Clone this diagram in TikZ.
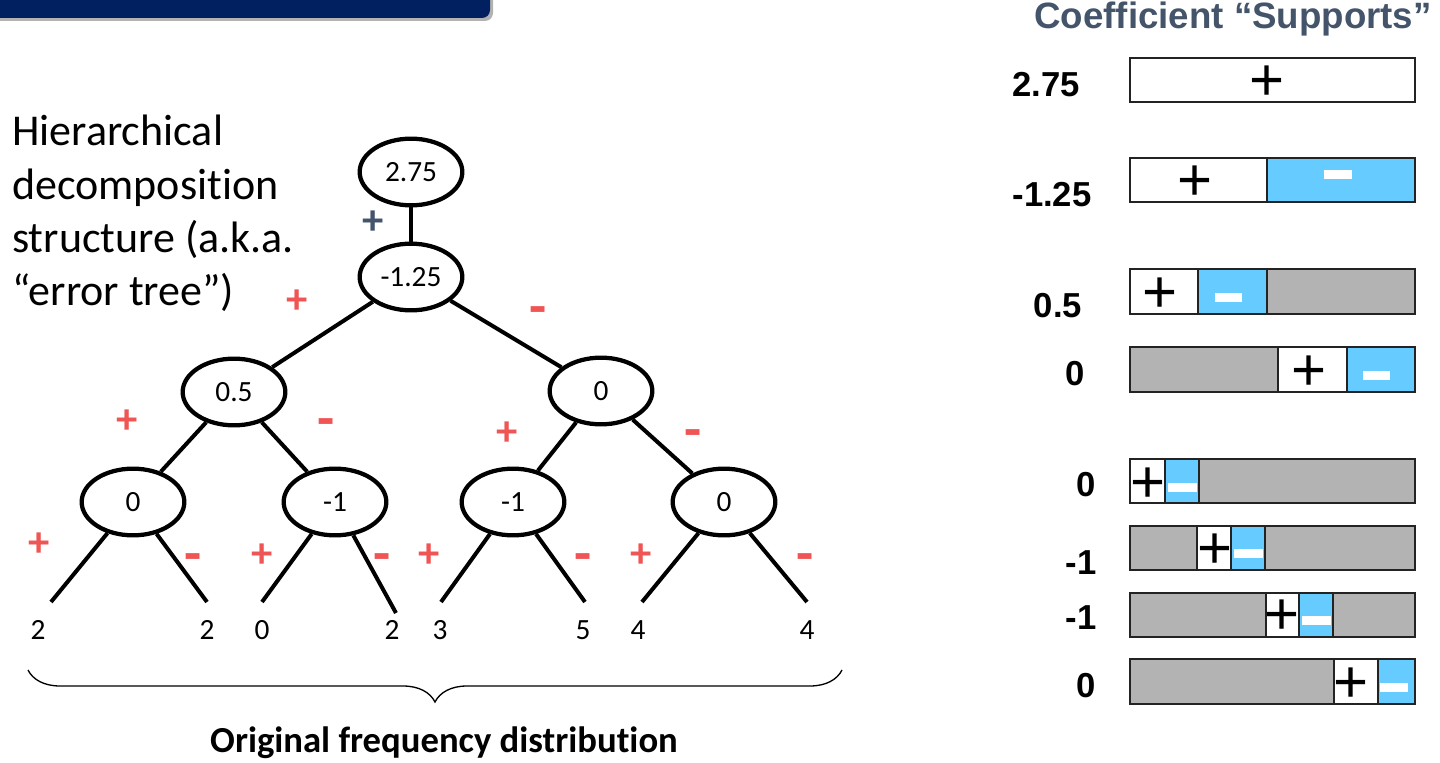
\documentclass[tikz,border=0pt]{standalone}
\usepackage{fontspec}
\setmainfont{Carlito}[Ligatures=NoCommon]
\newfontfamily\arialfont{Liberation Sans}
\usetikzlibrary{shapes.geometric,decorations.pathreplacing}

\definecolor{navy}{RGB}{0,32,96}
\definecolor{slate}{RGB}{68,84,106}
\definecolor{signred}{RGB}{240,85,85}
\definecolor{suppblue}{RGB}{102,204,255}
\definecolor{suppgray}{RGB}{179,179,179}
\definecolor{bardark}{RGB}{35,35,35}

\begin{document}
\begin{tikzpicture}[x=0.75pt,y=0.75pt,yscale=-1,xscale=1,
  coefnode/.style={ellipse, draw, line width=3.2pt, minimum width=77pt, minimum height=50pt, inner sep=0pt, font=\fontsize{22}{26}\selectfont},
  treeedge/.style={line width=3pt},
  leafnode/.style={inner sep=0pt, font=\fontsize{22}{26}\selectfont},
  possign/.style={inner sep=0pt, text=signred, font=\bfseries\fontsize{32}{32}\selectfont},
  negsign/.style={inner sep=0pt, text=signred, font=\bfseries\fontsize{42}{42}\selectfont},
  seg/.style={draw=bardark, line width=1.4pt},
  plusnode/.style={inner sep=0pt, font=\arialfont\fontsize{45}{45}\selectfont},
  coeflabel/.style={inner sep=0pt, font=\arialfont\bfseries\fontsize{26}{26}\selectfont}]
\useasboundingbox (0,0) rectangle (1440,763);

%Shape: Banner
\fill [black!30, rounded corners=6pt] (-20,-20) rectangle (493,21);
\fill [navy, rounded corners=6pt] (-20,-20) rectangle (490,18);

% Text Node
\node [anchor=north west, align=left, inner sep=0pt, font=\fontsize{33}{40}\selectfont] (intro) at (12,115) {Hierarchical\\decomposition\\structure (a.k.a.\\“error tree”)};

%Error tree
\node [coefnode] (c0) at (411,172) {2.75};
\node [coefnode] (c1) at (411,277) {-1.25};
\node [coefnode] (c2) at (234,392) {0.5};
\node [coefnode] (c3) at (601,391) {0};
\node [coefnode] (c4) at (133,502) {0};
\node [coefnode] (c5) at (335,502) {-1};
\node [coefnode] (c6) at (513,502) {-1};
\node [coefnode] (c7) at (724,502) {0};

\coordinate (e1) at (51,602);
\coordinate (e2) at (207,602);
\coordinate (e3) at (262,602);
\coordinate (e4) at (396,613);
\coordinate (e5) at (441,602);
\coordinate (e6) at (585,602);
\coordinate (e7) at (642,602);
\coordinate (e8) at (807,602);

\draw [treeedge] (c0) -- (c1);
\draw [treeedge] (c1) -- (c2);
\draw [treeedge] (c1) -- (c3);
\draw [treeedge] (c2) -- (c4);
\draw [treeedge] (c2) -- (c5);
\draw [treeedge] (c3) -- (c6);
\draw [treeedge] (c3) -- (c7);
\draw [treeedge] (c4) -- (e1);
\draw [treeedge] (c4) -- (e2);
\draw [treeedge] (c5) -- (e3);
\draw [treeedge] (c5) -- (e4);
\draw [treeedge] (c6) -- (e5);
\draw [treeedge] (c6) -- (e6);
\draw [treeedge] (c7) -- (e7);
\draw [treeedge] (c7) -- (e8);

% Leaf values
\node [leafnode] (d1) at (38,630) {2};
\node [leafnode] (d2) at (207,630) {2};
\node [leafnode] (d3) at (262,630) {0};
\node [leafnode] (d4) at (392,630) {2};
\node [leafnode] (d5) at (440,630) {3};
\node [leafnode] (d6) at (583,630) {5};
\node [leafnode] (d7) at (638,630) {4};
\node [leafnode] (d8) at (807,630) {4};

% Signs
\node [possign, text=slate] (s0) at (373,223) {+};
\node [possign] (s1) at (297,302) {+};
\node [negsign] (s2) at (538,316) {-};
\node [possign] (s3) at (127,422) {+};
\node [negsign] (s4) at (326,428) {-};
\node [possign] (s5) at (507,434) {+};
\node [negsign] (s6) at (693,439) {-};
\node [possign] (s7) at (39,545) {+};
\node [negsign] (s8) at (193,563) {-};
\node [possign] (s9) at (262,556) {+};
\node [negsign] (s10) at (382,563) {-};
\node [possign] (s11) at (429,556) {+};
\node [negsign] (s12) at (583,563) {-};
\node [possign] (s13) at (641,556) {+};
\node [negsign] (s14) at (805,563) {-};

%Brace
\draw [line width=1pt, decorate, decoration={brace, amplitude=24pt}] (842,670) -- (28,670);
% Text Node
\node [anchor=base, inner sep=0pt, font=\bfseries\fontsize{27.5}{32}\selectfont] (caption) at (444,752) {Original frequency distribution};

% Text Node
\node [anchor=base, inner sep=0pt, text=slate, font=\arialfont\bfseries\fontsize{27.5}{32}\selectfont] (title) at (1233,29) {Coefficient “Supports”};

% Coefficient labels
\node [coeflabel] (k0) at (1046,85) {2.75};
\node [coeflabel] (k1) at (1052,195) {-1.25};
\node [coeflabel] (k2) at (1058,306) {0.5};
\node [coeflabel] (k3) at (1075,374) {0};
\node [coeflabel] (k4) at (1086,485) {0};
\node [coeflabel] (k5) at (1081,563) {-1};
\node [coeflabel] (k6) at (1081,618) {-1};
\node [coeflabel] (k7) at (1086,686) {0};

%Shape: Support bars
\draw [seg, fill=white] (1130,58) rectangle (1415,102);
\draw [seg, fill=white] (1130,158) rectangle (1267,202);
\draw [seg, fill=suppblue] (1267,158) rectangle (1415,202);
\draw [seg, fill=white] (1130,269) rectangle (1198,314);
\draw [seg, fill=suppblue] (1198,269) rectangle (1267,314);
\draw [seg, fill=suppgray] (1267,269) rectangle (1415,314);
\draw [seg, fill=suppgray] (1130,347) rectangle (1278,392);
\draw [seg, fill=white] (1278,347) rectangle (1347,392);
\draw [seg, fill=suppblue] (1347,347) rectangle (1415,392);
\draw [seg, fill=white] (1130,459) rectangle (1165,503);
\draw [seg, fill=suppblue] (1165,459) rectangle (1199,503);
\draw [seg, fill=suppgray] (1199,459) rectangle (1415,503);
\draw [seg, fill=suppgray] (1130,526) rectangle (1197,570);
\draw [seg, fill=white] (1197,526) rectangle (1231,570);
\draw [seg, fill=suppblue] (1231,526) rectangle (1265,570);
\draw [seg, fill=suppgray] (1265,526) rectangle (1415,570);
\draw [seg, fill=suppgray] (1130,593) rectangle (1266,637);
\draw [seg, fill=white] (1266,593) rectangle (1299,637);
\draw [seg, fill=suppblue] (1299,593) rectangle (1333,637);
\draw [seg, fill=suppgray] (1333,593) rectangle (1415,637);
\draw [seg, fill=suppgray] (1130,659) rectangle (1334,704);
\draw [seg, fill=white] (1334,659) rectangle (1378,704);
\draw [seg, fill=suppblue] (1378,659) rectangle (1415,704);

% Minus marks
\fill [white] (1324,170) rectangle (1352,179);
\fill [white] (1215,293) rectangle (1242,302);
\fill [white] (1363,371) rectangle (1390,380);
\fill [white] (1168,483) rectangle (1197,492);
\fill [white] (1234,549) rectangle (1263,558);
\fill [white] (1302,616) rectangle (1331,625);
\fill [white] (1380,683) rectangle (1408,692);

% Plus marks
\node [plusnode] (p0) at (1267,83) {+};
\node [plusnode] (p1) at (1195,183) {+};
\node [plusnode] (p2) at (1160,295) {+};
\node [plusnode] (p3) at (1309,373) {+};
\node [plusnode] (p4) at (1148,485) {+};
\node [plusnode] (p5) at (1215,551) {+};
\node [plusnode] (p6) at (1282,617) {+};
\node [plusnode] (p7) at (1351,685) {+};

\end{tikzpicture}
\end{document}
